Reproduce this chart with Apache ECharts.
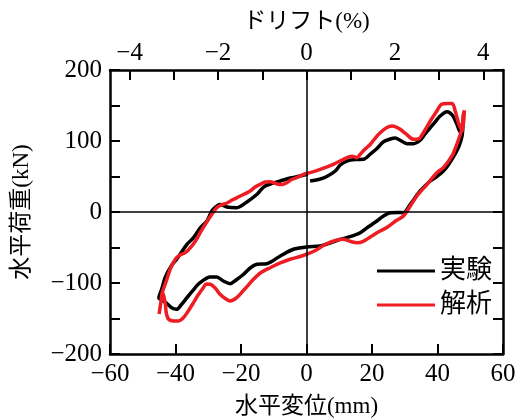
<!DOCTYPE html>
<html>
<head>
<meta charset="utf-8">
<script src="https://cdn.jsdelivr.net/npm/echarts@6/dist/echarts.min.js"></script>
<style>
  html, body { margin: 0; padding: 0; background: #fff; }
  #chart { width: 528px; height: 420px; }
</style>
</head>
<body>
<div id="chart"></div>
<script>
// Story height (mm) used to convert horizontal displacement to drift ratio
const storyHeight = 1350;

// Axis ranges and tick values
const dispRange = [-60, 60];
const dispInterval = 20;
const loadRange = [-200, 200];
const loadTickInterval = 50;
const loadLabelStep = 100;
const driftTicks = [-4, -3, -2, -1, 0, 1, 2, 3, 4];
const driftLabels = [-4, -2, 0, 2, 4];

// Series names
const testName = '実験';
const analysisName = '解析';

// Test hysteresis loop: [displacement (mm), load (kN)]
const testData = [
  [1.1, 43.7], [4.2, 46.5], [6.2, 50.0], [8.8, 57.7], [10.3, 66.2], [12.3, 71.8],
  [14.9, 73.9], [17.4, 74.2], [19.5, 81.7], [21.5, 89.4], [23.4, 98.6], [25.6, 102.8],
  [27.1, 104.2], [28.6, 101.0], [30.7, 96.2], [32.7, 96.2], [34.7, 101.0], [36.2, 109.9],
  [37.8, 118.7], [39.3, 126.8], [40.8, 135.2], [42.9, 141.3], [44.5, 136.6], [45.9, 123.9],
  [46.9, 112.7], [47.8, 125.4], [47.5, 107.0], [46.6, 93.0], [45.4, 81.7], [43.3, 66.2],
  [41.8, 57.7], [39.6, 49.3], [37.8, 43.7], [34.7, 29.6], [31.7, 10.8], [29.6, -1.0],
  [27.7, -0.7], [25.6, -1.0], [23.5, -5.6], [21.5, -12.7], [18.8, -21.1], [16.4, -29.2],
  [13.3, -34.8], [10.3, -38.5], [7.2, -43.7], [4.2, -47.9], [0.1, -49.3], [-4.0, -52.5],
  [-8.0, -62.0], [-12.1, -72.8], [-15.1, -73.7], [-17.2, -78.9], [-19.2, -87.7], [-21.5, -95.8],
  [-23.3, -101.0], [-25.4, -97.2], [-27.4, -91.5], [-29.4, -91.5], [-32.5, -99.6], [-34.6, -109.9],
  [-36.5, -120.7], [-38.3, -131.0], [-39.6, -137.0], [-41.3, -134.5], [-42.8, -128.2], [-44.1, -123.9],
  [-45.1, -121.1], [-44.2, -108.5], [-43.1, -91.5], [-41.1, -74.6], [-39.6, -66.2], [-36.5, -45.5],
  [-34.5, -36.2], [-32.5, -22.5], [-30.4, -12.7], [-28.9, 1.4], [-27.6, 7.7], [-26.4, 10.6],
  [-24.3, 7.0], [-21.3, 6.1], [-18.2, 14.1], [-15.1, 24.9], [-13.1, 35.2], [-11.1, 39.4],
  [-8.0, 43.7], [-5.0, 47.9], [-1.9, 50.7], [0.4, 53.5]
];

// Analysis hysteresis loop: [displacement (mm), load (kN)]
const analysisData = [
  [-45.0, -143.7], [-44.5, -128.2], [-44.1, -114.1], [-42.8, -97.2], [-41.6, -80.3], [-40.0, -66.2],
  [-38.6, -60.6], [-37.0, -57.3], [-35.5, -50.7], [-33.5, -38.0], [-32.2, -26.8], [-30.9, -17.3],
  [-28.9, -3.2], [-27.4, 6.1], [-26.0, 9.9], [-24.3, 12.7], [-22.4, 17.6], [-20.2, 22.5],
  [-17.2, 29.6], [-15.7, 35.2], [-14.1, 39.0], [-12.6, 42.3], [-11.1, 42.7], [-9.0, 39.4],
  [-7.4, 38.7], [-6.0, 41.3], [-4.5, 45.8], [-2.9, 48.6], [-0.9, 53.1], [1.1, 55.4],
  [4.2, 60.1], [8.2, 67.2], [11.3, 74.2], [13.9, 78.6], [15.4, 76.5], [16.4, 81.3],
  [17.9, 88.7], [19.5, 95.4], [21.0, 104.2], [22.5, 111.7], [24.3, 118.3], [26.1, 121.1],
  [27.4, 119.7], [28.6, 116.5], [30.4, 109.9], [32.7, 102.4], [34.1, 102.8], [34.7, 104.6],
  [36.2, 115.5], [37.8, 128.2], [39.6, 140.8], [41.3, 152.1], [43.0, 152.8], [44.5, 152.8],
  [45.4, 142.3], [46.4, 125.8], [47.5, 114.1], [47.8, 135.2], [48.2, 143.0], [48.0, 128.2],
  [47.5, 116.9], [46.9, 108.5], [45.9, 95.4], [44.4, 78.9], [41.8, 62.4], [39.8, 55.4],
  [36.8, 39.0], [33.7, 22.5], [31.7, 8.5], [29.6, -5.6], [27.4, -12.0], [24.5, -21.8],
  [21.9, -28.2], [19.5, -35.2], [17.3, -41.5], [15.5, -43.4], [13.3, -41.3], [11.2, -38.5],
  [8.8, -40.1], [5.7, -45.8], [3.0, -53.5], [1.1, -57.7], [-1.9, -62.7], [-5.0, -66.6],
  [-8.0, -71.8], [-11.1, -78.5], [-14.1, -85.9], [-16.2, -94.8], [-18.7, -107.7], [-21.3, -120.7],
  [-23.3, -125.4], [-24.8, -121.8], [-26.4, -115.9], [-27.9, -107.0], [-29.4, -101.8], [-30.6, -101.4],
  [-31.5, -106.6], [-33.1, -116.9], [-34.5, -127.7], [-36.1, -139.4], [-37.6, -148.9], [-39.2, -153.5],
  [-40.6, -153.5], [-42.1, -151.1], [-42.8, -142.3], [-43.1, -130.0], [-43.8, -114.1], [-45.0, -143.7]
];

const numFont = "'Liberation Serif', 'Times New Roman', serif";
const jpFont = "'Liberation Serif', 'Noto Sans CJK JP', serif";
const ink = '#000';
const red = '#ee1d23';

const signed = v => (v < 0 ? '\u2212' + Math.abs(v) : String(v));

const tickStyle = { show: true, inside: true, length: 10, lineStyle: { color: ink, width: 2 } };
const frameLine = { show: true, onZero: false, lineStyle: { color: ink, width: 2.5 } };
const numLabel = { color: ink, fontFamily: numFont, fontSize: 25 };

const chart = echarts.init(document.getElementById('chart'), null, { renderer: 'canvas' });

chart.setOption({
  animation: false,
  backgroundColor: '#fff',
  grid: { left: 110, right: 25, top: 70, bottom: 66, containLabel: false, outerBoundsMode: 'none' },
  legend: {
    orient: 'vertical',
    left: 377,
    top: 258,
    padding: 0,
    itemWidth: 58,
    itemHeight: 3,
    itemGap: 8,
    icon: 'rect',
    data: [testName, analysisName],
    textStyle: { color: ink, fontFamily: jpFont, fontSize: 26, lineHeight: 26, padding: [0, 0, 0, 0] }
  },
  xAxis: [
    {
      type: 'value',
      position: 'bottom',
      min: dispRange[0],
      max: dispRange[1],
      interval: dispInterval,
      name: '水平変位(mm)',
      nameLocation: 'middle',
      nameGap: 41,
      nameTextStyle: { color: ink, fontFamily: jpFont, fontSize: 23 },
      axisLine: frameLine,
      axisTick: tickStyle,
      axisLabel: Object.assign({ margin: 8, showMinLabel: true, showMaxLabel: true, formatter: signed }, numLabel),
      splitLine: { show: false }
    },
    {
      type: 'value',
      position: 'top',
      min: dispRange[0] / storyHeight * 100,
      max: dispRange[1] / storyHeight * 100,
      name: 'ドリフト(%)',
      nameLocation: 'middle',
      nameGap: 37,
      nameTextStyle: { color: ink, fontFamily: jpFont, fontSize: 23 },
      axisLine: frameLine,
      axisTick: Object.assign({ customValues: driftTicks }, tickStyle),
      axisLabel: Object.assign({ margin: 4, customValues: driftLabels, formatter: signed }, numLabel),
      splitLine: { show: false }
    }
  ],
  yAxis: [
    {
      type: 'value',
      position: 'left',
      min: loadRange[0],
      max: loadRange[1],
      interval: loadTickInterval,
      name: '水平荷重(kN)',
      nameLocation: 'middle',
      nameGap: 77,
      nameTextStyle: { color: ink, fontFamily: jpFont, fontSize: 23 },
      axisLine: frameLine,
      axisTick: tickStyle,
      axisLabel: Object.assign({
        margin: 8,
        formatter: v => (v % loadLabelStep === 0 ? signed(v) : '')
      }, numLabel),
      splitLine: { show: false }
    },
    {
      type: 'value',
      position: 'right',
      min: loadRange[0],
      max: loadRange[1],
      interval: loadTickInterval,
      axisLine: frameLine,
      axisTick: tickStyle,
      axisLabel: { show: false },
      splitLine: { show: false }
    }
  ],
  series: [
    {
      name: testName,
      type: 'line',
      xAxisIndex: 0,
      yAxisIndex: 0,
      data: testData,
      symbol: 'none',
      smooth: 0.3,
      lineStyle: { color: ink, width: 3.5 },
      itemStyle: { color: ink },
      z: 3,
      markLine: {
        silent: true,
        symbol: ['none', 'none'],
        label: { show: false },
        lineStyle: { color: ink, width: 1.5, type: 'solid' },
        data: [{ xAxis: 0 }, { yAxis: 0 }]
      }
    },
    {
      name: analysisName,
      type: 'line',
      xAxisIndex: 0,
      yAxisIndex: 0,
      data: analysisData,
      symbol: 'none',
      smooth: 0.3,
      lineStyle: { color: red, width: 3.5 },
      itemStyle: { color: red },
      z: 4
    }
  ]
});
</script>
</body>
</html>
